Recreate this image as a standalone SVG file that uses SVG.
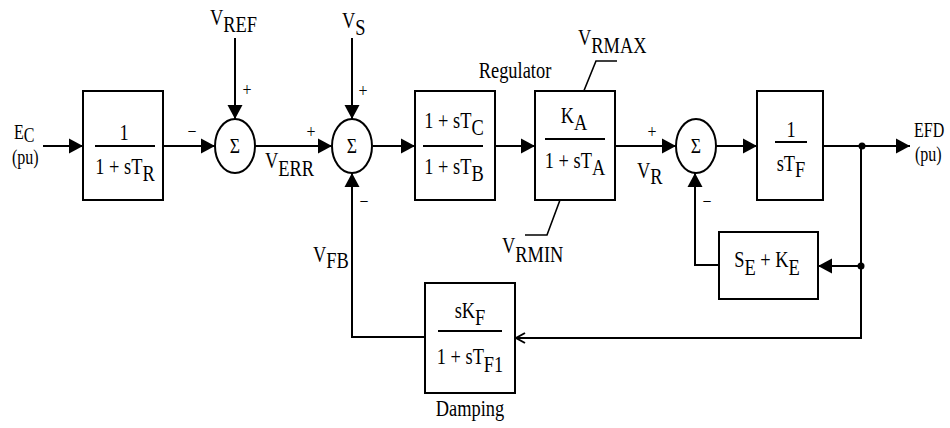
<svg xmlns="http://www.w3.org/2000/svg" width="950" height="428" viewBox="0 0 950 428" font-family="'Liberation Serif', 'Times New Roman', serif">
<style>
text{font-family:"Liberation Serif","Times New Roman",serif;font-size:23px;fill:#000}
.s{font-size:19px}
.g{font-size:21px}
.io{font-size:20px}
.box{fill:#fff;stroke:#000;stroke-width:2}
.sum{fill:#fff;stroke:#000;stroke-width:2}
.bar{stroke:#000;stroke-width:2}
.ln{fill:none;stroke:#000;stroke-width:2}
.lead{fill:none;stroke:#000;stroke-width:1.6}
</style>
<defs>
<marker id="ah" markerUnits="userSpaceOnUse" markerWidth="16" markerHeight="16" refX="14" refY="8" orient="auto" viewBox="0 0 16 16"><path d="M0,0.5 L14,8 L0,15.5 Z" fill="#000"/></marker>
<marker id="oa" markerUnits="userSpaceOnUse" markerWidth="12" markerHeight="12" refX="10" refY="6" orient="auto" viewBox="0 0 12 12"><path d="M1,1 L10,6 L1,11" fill="none" stroke="#000" stroke-width="2"/></marker>
</defs>
<rect width="950" height="428" fill="#fff"/>

<g id="connectors">
<line class="ln" x1="43" y1="146" x2="83" y2="146" marker-end="url(#ah)"/>
<line class="ln" x1="163" y1="146" x2="215" y2="146" marker-end="url(#ah)"/>
<line class="ln" x1="235" y1="38" x2="235" y2="119" marker-end="url(#ah)"/>
<line class="ln" x1="255" y1="146" x2="332" y2="146" marker-end="url(#ah)"/>
<line class="ln" x1="352" y1="38" x2="352" y2="119" marker-end="url(#ah)"/>
<line class="ln" x1="373" y1="146" x2="415" y2="146" marker-end="url(#ah)"/>
<line class="ln" x1="495" y1="146" x2="535" y2="146" marker-end="url(#ah)"/>
<line class="ln" x1="615" y1="146" x2="676" y2="146" marker-end="url(#ah)"/>
<line class="ln" x1="716" y1="146" x2="757" y2="146" marker-end="url(#ah)"/>
<line class="ln" x1="823" y1="146" x2="910" y2="146" marker-end="url(#ah)"/>
<line class="ln" x1="861" y1="146" x2="861" y2="339"/>
<line class="ln" x1="861" y1="266" x2="818" y2="266" marker-end="url(#ah)"/>
<polyline class="ln" points="719,265 695,265 695,173" marker-end="url(#ah)"/>
<line class="ln" x1="862" y1="338" x2="516" y2="338" marker-end="url(#oa)"/>
<polyline class="ln" points="425,337 352,337 352,173" marker-end="url(#ah)"/>
<circle cx="862" cy="146" r="3.5" fill="#000"/>
<circle cx="861" cy="266" r="3.5" fill="#000"/>
<polyline class="lead" points="617,61 596,61 583,93"/>
<polyline class="lead" points="525,235 547,235 560,200"/>
</g>

<g id="input-ec">
<text transform="translate(14,139) scale(0.8,1)" class="io">E<tspan dy="3">C</tspan></text>
<text transform="translate(12,164) scale(0.8,1)" class="io">(pu)</text>
</g>

<g id="box-tr">
<rect class="box" x="83" y="91" width="80" height="109"/>
<line class="bar" x1="95" y1="146" x2="155" y2="146"/>
<text transform="translate(124,140) scale(0.8,1)" text-anchor="middle">1</text>
<text transform="translate(125,174) scale(0.8,1)" text-anchor="middle">1 + sT<tspan dy="7">R</tspan></text>
</g>

<g id="sum1">
<ellipse class="sum" cx="235" cy="146" rx="20" ry="27"/>
<text transform="translate(235,153) scale(0.84,1)" text-anchor="middle" class="g">Σ</text>
<text transform="translate(247,96) scale(0.84,1)" text-anchor="middle" class="s">+</text>
<text transform="translate(192,138) scale(0.84,1)" text-anchor="middle" class="s">−</text>
</g>

<g id="label-vref">
<text transform="translate(210,25) scale(0.8,1)">V<tspan dy="7">REF</tspan></text>
</g>

<g id="label-verr">
<text transform="translate(265,168) scale(0.8,1)">V<tspan dy="8">ERR</tspan></text>
</g>

<g id="sum2">
<ellipse class="sum" cx="352" cy="146" rx="20" ry="27"/>
<text transform="translate(352,153) scale(0.84,1)" text-anchor="middle" class="g">Σ</text>
<text transform="translate(311,138) scale(0.84,1)" text-anchor="middle" class="s">+</text>
<text transform="translate(363,97) scale(0.84,1)" text-anchor="middle" class="s">+</text>
<text transform="translate(364,208) scale(0.84,1)" text-anchor="middle" class="s">−</text>
</g>

<g id="label-vs">
<text transform="translate(342,28) scale(0.8,1)">V<tspan dy="7">S</tspan></text>
</g>

<g id="box-lead-lag">
<rect class="box" x="415" y="91" width="80" height="109"/>
<line class="bar" x1="423" y1="146" x2="483" y2="146"/>
<text transform="translate(454,128) scale(0.8,1)" text-anchor="middle">1 + sT<tspan dy="7">C</tspan></text>
<text transform="translate(454,174) scale(0.8,1)" text-anchor="middle">1 + sT<tspan dy="7">B</tspan></text>
</g>

<g id="label-regulator">
<text transform="translate(515,78) scale(0.8,1)" text-anchor="middle">Regulator</text>
</g>

<g id="box-regulator">
<rect class="box" x="535" y="91" width="80" height="109"/>
<line class="bar" x1="545" y1="139" x2="605" y2="139"/>
<text transform="translate(574,123) scale(0.8,1)" text-anchor="middle">K<tspan dy="7">A</tspan></text>
<text transform="translate(575,168) scale(0.8,1)" text-anchor="middle">1 + sT<tspan dy="7">A</tspan></text>
</g>

<g id="label-vrmax">
<text transform="translate(578,45) scale(0.8,1)">V<tspan dy="8">RMAX</tspan></text>
</g>

<g id="label-vrmin">
<text transform="translate(502,253) scale(0.8,1)">V<tspan dy="9">RMIN</tspan></text>
</g>

<g id="label-vr">
<text transform="translate(637,178) scale(0.8,1)">V<tspan dy="6">R</tspan></text>
</g>

<g id="sum3">
<ellipse class="sum" cx="696" cy="146" rx="20" ry="27"/>
<text transform="translate(696,153) scale(0.84,1)" text-anchor="middle" class="g">Σ</text>
<text transform="translate(652,138) scale(0.84,1)" text-anchor="middle" class="s">+</text>
<text transform="translate(707,208) scale(0.84,1)" text-anchor="middle" class="s">−</text>
</g>

<g id="box-exciter">
<rect class="box" x="757" y="91" width="66" height="109"/>
<line class="bar" x1="775" y1="142" x2="807" y2="142"/>
<text transform="translate(791,137) scale(0.8,1)" text-anchor="middle">1</text>
<text transform="translate(791,171) scale(0.8,1)" text-anchor="middle">sT<tspan dy="6">F</tspan></text>
</g>

<g id="output-efd">
<text transform="translate(914,137) scale(0.8,1)" class="io">EFD</text>
<text transform="translate(915,161) scale(0.8,1)" class="io">(pu)</text>
</g>

<g id="box-saturation">
<rect class="box" x="719" y="232" width="99" height="67"/>
<text transform="translate(767,267) scale(0.8,1)" text-anchor="middle">S<tspan dy="8">E</tspan><tspan dy="-8"> + K</tspan><tspan dy="8">E</tspan></text>
</g>

<g id="label-vfb">
<text transform="translate(313,262) scale(0.8,1)">V<tspan dy="6">FB</tspan></text>
</g>

<g id="box-damping">
<rect class="box" x="425" y="283" width="90" height="110"/>
<line class="bar" x1="438" y1="331" x2="502" y2="331"/>
<text transform="translate(470,318) scale(0.8,1)" text-anchor="middle">sK<tspan dy="7">F</tspan></text>
<text transform="translate(470,364) scale(0.8,1)" text-anchor="middle">1 + sT<tspan dy="8">F1</tspan></text>
</g>

<g id="label-damping">
<text transform="translate(470,416) scale(0.8,1)" text-anchor="middle">Damping</text>
</g>
</svg>
